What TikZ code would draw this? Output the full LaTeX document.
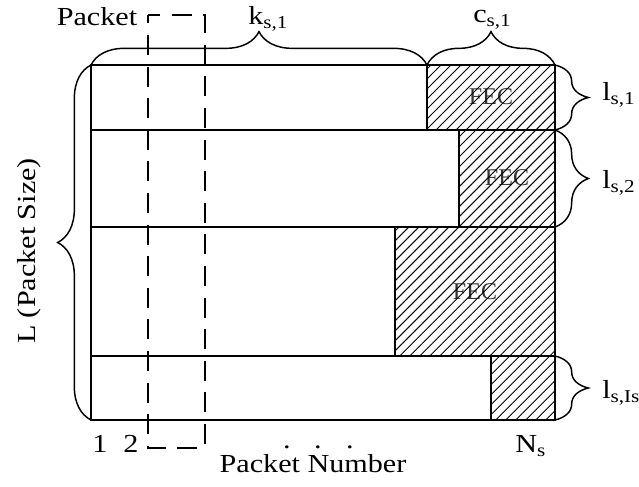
\documentclass[tikz,border=0pt]{standalone}
\usepackage{fontspec}
\setmainfont{Liberation Serif}[FakeStretch=1.16]
\newfontfamily\fecfont{Liberation Serif}
\usetikzlibrary{decorations.pathreplacing,patterns.meta}

\tikzset{
  box/.style={line width=1.5pt},
  fec/.style={pattern={Lines[angle=45,distance=5.3pt,line width=0.7pt]}},
  brc/.style={decorate,decoration={brace,amplitude=25pt},line width=1.1pt},
  lbl/.style={font=\fontsize{19.5}{22}\selectfont,inner sep=0pt},
  feclbl/.style={font=\fecfont\fontsize{18}{20}\selectfont,text=black!80,inner sep=0pt},
  pkt/.style={line width=1.5pt,dash pattern=on 15pt off 8.7pt,dash phase=6pt}
}

\begin{document}
\begin{tikzpicture}[x=0.75pt,y=-0.75pt]
  \useasboundingbox (0,0) rectangle (639,486);

  % corners and row borders
  \coordinate (tl) at (91,65);
  \coordinate (bl) at (91,420);
  \coordinate (cs) at (427,65);
  \coordinate (r0) at (555,65);
  \coordinate (r1) at (555,130);
  \coordinate (r2) at (555,227);
  \coordinate (r3) at (555,356);
  \coordinate (r4) at (555,420);

  \node[feclbl] (fec1) at (491,97) {FEC};
  \node[feclbl] (fec2) at (507,178) {FEC};
  \node[feclbl] (fec3) at (475,292) {FEC};

  \foreach \t/\b/\f in {65/130/427,130/227/459,227/356/395,356/420/491}{
    \draw[fec,box] (\f,\t) rectangle (555,\b);
    \draw[box] (91,\t) rectangle (555,\b);
  }

  % packet window
  \draw[pkt] (148,15) -- (205,15) -- (205,448) -- (148,448) -- cycle;

  % braces
  \draw[brc] (tl) -- (cs);
  \draw[brc] (cs) -- (r0);
  \draw[brc] (bl) -- (tl);
  \draw[brc] (r0) -- (r1);
  \draw[brc] (r1) -- (r2);
  \draw[brc] (r3) -- (r4);

  % labels
  \node[lbl,anchor=base] (pkt) at (97,25) {Packet};
  \node[lbl,anchor=base west] (ks) at (248,24) {k\textsubscript{s,1}};
  \node[lbl,anchor=base west] (cs1) at (473,22) {c\textsubscript{s,1}};
  \node[lbl,anchor=base west] (ls1) at (602,100) {l\textsubscript{s,1}};
  \node[lbl,anchor=base west] (ls2) at (602,188) {l\textsubscript{s,2}};
  \node[lbl,anchor=base west] (lsI) at (602,398) {l\textsubscript{s,Is}};
  \node[lbl,rotate=90,anchor=base] (psize) at (35,251) {L (Packet Size)};
  \node[lbl,anchor=base] (n1) at (100,452) {1};
  \node[lbl,anchor=base] (n2) at (131,452) {2};
  \foreach \x [count=\i] in {287,318,350}
    \node[lbl,anchor=base] (dot\i) at (\x,448) {.};
  \node[lbl,anchor=base west] (ns) at (515,452) {N\textsubscript{s}};
  \node[lbl,anchor=base] (pnum) at (313,472) {Packet Number};
\end{tikzpicture}
\end{document}
